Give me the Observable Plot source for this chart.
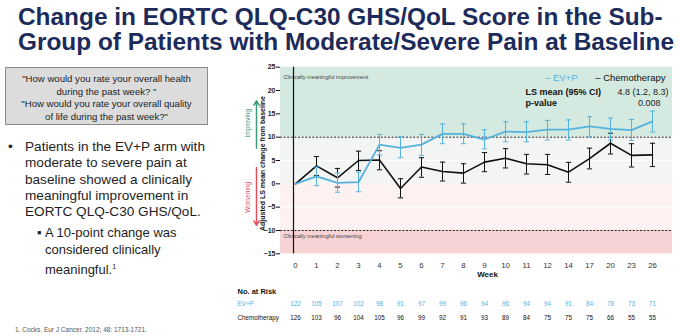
<!DOCTYPE html>
<html>
<head>
<meta charset="utf-8">
<script src="https://cdn.jsdelivr.net/npm/d3@7"></script>
<script src="https://cdn.jsdelivr.net/npm/@observablehq/plot@0.6"></script>
<style>
  html, body { margin: 0; padding: 0; background: #fff; }
  #slide { position: relative; width: 680px; height: 336px; overflow: hidden; background: #fff;
           font-family: "Liberation Sans", Arial, sans-serif; }
  #title { position: absolute; left: 18px; top: 5px; font-size: 24.4px; font-weight: bold; line-height: 24.5px;
           color: #1d2b5b; white-space: nowrap; z-index: 2; }
  #quote { position: absolute; left: 5px; top: 67px; width: 203px; height: 58px; background: #dcdcdc;
           border: 1px solid #8a8a8a; font-size: 9.6px; line-height: 12.7px; color: #222; text-align: center;
           padding-top: 5px; box-sizing: border-box; z-index: 2; }
  .bul { position: absolute; font-size: 13.6px; line-height: 16.3px; color: #1e1e1e; z-index: 2; white-space: nowrap; }
  .sub { position: absolute; font-size: 13px; line-height: 16.8px; color: #1e1e1e; z-index: 2; white-space: nowrap; }
  #foot { position: absolute; left: 15px; top: 326px; font-size: 6.5px; color: #555; z-index: 2; white-space: nowrap; }
  #chart { position: absolute; left: 0; top: 0; z-index: 1; }
</style>
</head>
<body>
<div id="slide">
  <div id="title">Change in EORTC QLQ-C30 GHS/QoL Score in the Sub-<br>Group of Patients with Moderate/Severe Pain at Baseline</div>
  <div id="quote">"How would you rate your overall health<br>during the past week? "<br>"How would you rate your overall quality<br>of life during the past week?"</div>
  <div class="bul" style="left:8px; top:139px;">•</div>
  <div class="bul" style="left:25px; top:139px;">Patients in the EV+P arm with<br>moderate to severe pain at<br>baseline showed a clinically<br>meaningful improvement in<br>EORTC QLQ-C30 GHS/QoL.</div>
  <div class="sub" style="left:37px; top:225px;">▪</div>
  <div class="sub" style="left:45px; top:225px;">A 10-point change was<br>considered clinically<br>meaningful.<sup style="font-size:7px;">1</sup></div>
  <div id="foot">1. Cocks. Eur J Cancer. 2012; 48: 1713-1721.</div>
  <div id="chart"></div>
</div>
<script>
const weeks = [0,1,2,3,4,5,6,7,8,9,10,11,12,14,17,20,23,26];
const evpMean = [0,1.6,0.2,0.35,8.4,7.7,8.4,10.7,10.7,9.5,11.2,11.1,11.6,11.6,12.3,11.8,11.5,13.4];
const evpLow  = [null,-0.4,-1.8,-1.7,6.2,5.6,6.1,8.6,8.6,7.5,9.0,9.0,9.4,9.4,10.1,9.4,9.3,11.1];
const evpHigh = [null,3.6,2.3,2.5,10.6,10.1,10.6,12.85,12.85,11.6,13.3,13.3,13.6,13.7,14.4,14.1,13.8,15.6];
const chemoMean = [0,3.85,1.3,5.0,5.1,-1.0,3.6,2.65,2.3,4.65,5.5,4.3,4.1,2.5,5.4,8.7,6.1,6.2];
const chemoLow  = [null,1.8,-0.7,2.85,3.0,-3.0,1.4,0.6,0.15,2.6,3.4,2.1,2.0,0.35,3.2,6.4,3.6,3.7];
const chemoHigh = [null,5.85,3.3,7.0,7.1,1.1,5.6,4.65,4.3,6.7,7.55,6.3,6.3,4.6,7.65,10.85,8.6,8.7];
const evpRisk   = [122,105,107,102,98,91,97,99,96,94,96,94,94,91,84,78,73,71];
const chemoRisk = [126,103,96,104,105,96,99,92,91,93,89,84,75,75,75,66,55,55];
const yTicks = [-15,-10,-5,0,5,10,15,20,25];
const meaningful = 10;

const BLUE = "#55b2dc", BLACK = "#111";
const evp = weeks.map((w,i) => ({week:w, mean:evpMean[i], lo:evpLow[i], hi:evpHigh[i], n:evpRisk[i]}));
const chemo = weeks.map((w,i) => ({week:w, mean:chemoMean[i], lo:chemoLow[i], hi:chemoHigh[i], n:chemoRisk[i]}));
const evpBars = evp.filter(d => d.lo != null);
const chemoBars = chemo.filter(d => d.lo != null);

// horizontal cap symbol for error bars
const capSymbol = { draw(ctx, size) { const w = 2.6; ctx.moveTo(-w, 0); ctx.lineTo(w, 0); } };

const errMarks = (data, color) => [
  Plot.ruleX(data, {x:"week", y1:"lo", y2:"hi", stroke:color, strokeWidth:1}),
  Plot.dot(data, {x:"week", y:"hi", symbol: capSymbol, r: 3, stroke:color, strokeWidth:1, fill: "none"}),
  Plot.dot(data, {x:"week", y:"lo", symbol: capSymbol, r: 3, stroke:color, strokeWidth:1, fill: "none"})
];

const chart = Plot.plot({
  width: 680, height: 336,
  marginLeft: 280, marginRight: 8, marginTop: 66.7, marginBottom: 82.7,
  style: {background: "transparent", fontFamily: "Liberation Sans, Arial, sans-serif", color: "#222"},
  x: {type: "point", domain: weeks, range: [282, 664.5]},
  y: {domain: [-15, 25]},
  marks: [
    Plot.rect([0], {y1: meaningful, y2: 25, fill: "#d4e9e0"}),
    Plot.rect([0], {y1: 0, y2: meaningful, fill: "#f3f5f4"}),
    Plot.rect([0], {y1: -meaningful, y2: 0, fill: "#fdf1f1"}),
    Plot.rect([0], {y1: -15, y2: -meaningful, fill: "#f7d3d6"}),
    Plot.ruleY([5, -5], {stroke: "#fff", strokeWidth: 1}),
    Plot.ruleY([meaningful, -meaningful], {stroke: "#222", strokeWidth: 1, strokeDasharray: "2,1.6"}),
    Plot.text(["Clinically meaningful improvement"], {frameAnchor: "top-left", dx: 3, dy: 8, textAnchor: "start", fontSize: 5.6, fill: "#444"}),
    Plot.text(["Clinically meaningful worsening"], {frameAnchor: "left", y: -meaningful, dx: 3, dy: 5.5, textAnchor: "start", fontSize: 5.6, fill: "#444"}),
    Plot.ruleX([0], {dx: -2, stroke: "#111", strokeWidth: 1.2}),
    Plot.axisY({ticks: yTicks, tickSize: 4, tickPadding: 1, fontSize: 7, fontWeight: "bold", label: null, stroke: "#111"}),
    Plot.axisX({tickSize: 0, tickPadding: 9, fontSize: 7.8, label: null, fill: "#333"}),
    ...errMarks(chemoBars, BLACK),
    Plot.line(chemo, {x: "week", y: "mean", stroke: BLACK, strokeWidth: 1.6}),
    ...errMarks(evpBars, BLUE),
    Plot.line(evp, {x: "week", y: "mean", stroke: BLUE, strokeWidth: 1.8}),
    // legend and stats
    Plot.text(["– Chemotherapy"], {frameAnchor: "top-right", dx: -7, dy: 7.5, textAnchor: "end", fontSize: 9.5, fill: "#111"}),
    Plot.text(["– EV+P"], {frameAnchor: "top-right", dx: -95, dy: 7.5, textAnchor: "end", fontSize: 9.5, fill: BLUE}),
    Plot.text(["LS mean (95% CI)"], {frameAnchor: "top-right", dx: -147, dy: 21.3, textAnchor: "start", fontSize: 9, fontWeight: "bold", fill: "#111"}),
    Plot.text(["4.8 (1.2, 8.3)"], {frameAnchor: "top-right", dx: -4, dy: 21.3, textAnchor: "end", fontSize: 9, fill: "#222"}),
    Plot.text(["p-value"], {frameAnchor: "top-right", dx: -147, dy: 32.3, textAnchor: "start", fontSize: 9, fontWeight: "bold", fill: "#111"}),
    Plot.text(["0.008"], {frameAnchor: "top-right", dx: -12, dy: 32.3, textAnchor: "end", fontSize: 9, fill: "#222"}),
    // y label and arrows
    Plot.text(["Adjusted LS mean change from baseline"], {frameAnchor: "left", dx: -18, dy: 3, rotate: -90, textAnchor: "middle", fontSize: 7, fontWeight: "bold", fill: "#111"}),
    Plot.arrow([0], {x1: 0, x2: 0, y1: 7.6, y2: 17.8, dx: -39, stroke: "#3d9b7d", strokeWidth: 1.5, headLength: 5}),
    Plot.text(["Improving"], {frameAnchor: "left", y: 13, dx: -33, rotate: -90, textAnchor: "middle", fontSize: 6.5, fill: "#3d9b7d"}),
    Plot.arrow([0], {x1: 0, x2: 0, y1: 3.5, y2: -8.9, dx: -39, stroke: "#e0505f", strokeWidth: 1.5, headLength: 5}),
    Plot.text(["Worsening"], {frameAnchor: "left", y: -2.9, dx: -33, rotate: -90, textAnchor: "middle", fontSize: 6.5, fill: "#e0505f"}),
    // x label and risk table
    Plot.text(["Week"], {frameAnchor: "bottom", dx: 11, dy: 23, fontSize: 8, fontWeight: "bold", fill: "#111"}),
    Plot.text(["No. at Risk"], {frameAnchor: "bottom-left", dx: -43, dy: 40, textAnchor: "start", fontSize: 7.5, fontWeight: "bold", fill: "#111"}),
    Plot.text(["EV+P"], {frameAnchor: "bottom-left", dx: -43, dy: 52, textAnchor: "start", fontSize: 6.3, fill: BLUE}),
    Plot.text(["Chemotherapy"], {frameAnchor: "bottom-left", dx: -43, dy: 66, textAnchor: "start", fontSize: 6.3, fill: "#111"}),
    Plot.text(evp, {x: "week", text: "n", frameAnchor: "bottom", dy: 52, fontSize: 6.3, fill: BLUE}),
    Plot.text(chemo, {x: "week", text: "n", frameAnchor: "bottom", dy: 66, fontSize: 6.3, fill: "#111"})
  ]
});
document.getElementById("chart").appendChild(chart);
</script>
</body>
</html>
